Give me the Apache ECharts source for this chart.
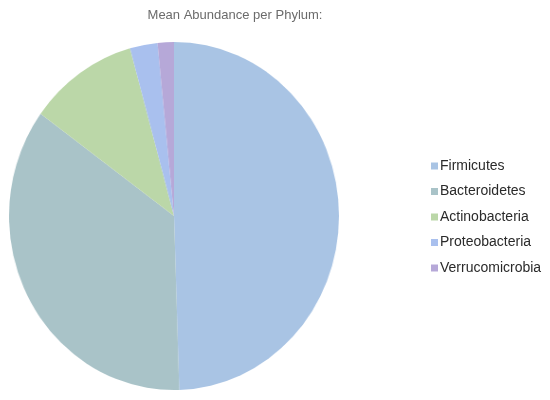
<!DOCTYPE html>
<html>
<head>
<meta charset="utf-8">
<script src="https://cdn.jsdelivr.net/npm/echarts@6/dist/echarts.min.js"></script>
<style>
html,body{margin:0;padding:0;background:#fff;}
#wrap{position:relative;width:550px;height:400px;}
#pie{position:absolute;left:0;top:0;width:550px;height:400px;transform:scale(0.948,1);transform-origin:174px 216px;}
#chart{position:absolute;left:0;top:0;width:550px;height:400px;}
</style>
</head>
<body>
<div id="wrap"><div id="pie"></div><div id="chart"></div></div>
<script>
const titleText = 'Mean Abundance per Phylum:';
const categories = ['Firmicutes', 'Bacteroidetes', 'Actinobacteria', 'Proteobacteria', 'Verrucomicrobia'];
const values = [49.5, 35.5, 10.7, 2.7, 1.6];
const colors = ['#a9c4e4', '#a9c3c8', '#bbd7a8', '#a9c0ee', '#b6a8d8'];

const pieChart = echarts.init(document.getElementById('pie'), null, {renderer: 'canvas'});
pieChart.setOption({
  animation: false,
  color: colors,
  series: [{
    type: 'pie',
    center: [174, 216],
    radius: 174,
    startAngle: 90,
    clockwise: true,
    label: {show: false},
    labelLine: {show: false},
    emphasis: {disabled: true},
    itemStyle: {borderWidth: 0},
    data: categories.map((c, i) => ({name: c, value: values[i]}))
  }]
});

const chart = echarts.init(document.getElementById('chart'), null, {renderer: 'canvas'});
chart.setOption({
  animation: false,
  color: colors,
  title: {
    text: titleText,
    left: 230,
    top: 4,
    textAlign: 'center',
    textStyle: {fontFamily: 'Liberation Sans, Arial, sans-serif', fontSize: 13, fontWeight: 'normal', color: '#6b6b6b'}
  },
  legend: {
    orient: 'vertical',
    left: 426,
    top: 153,
    icon: 'rect',
    itemWidth: 7,
    itemHeight: 7,
    itemGap: 9.5,
    data: categories,
    textStyle: {fontFamily: 'Liberation Sans, Arial, sans-serif', fontSize: 14, lineHeight: 16, color: '#2a2a2a', padding: [0, 0, 0, -3]}
  },
  series: [{
    type: 'pie',
    radius: [0, 0.01],
    center: [-100, -100],
    silent: true,
    label: {show: false},
    labelLine: {show: false},
    data: categories.map((c, i) => ({name: c, value: values[i]}))
  }]
});
</script>
</body>
</html>
